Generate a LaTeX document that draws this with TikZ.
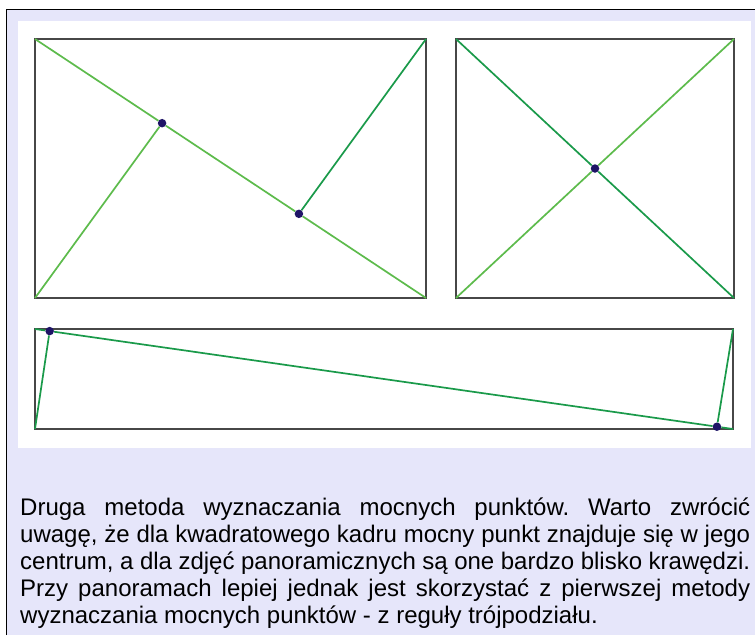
\documentclass[tikz,border=0pt]{standalone}
\usepackage{fontspec}
\setmainfont{Liberation Sans}
\usetikzlibrary{calc}
\definecolor{tlolawenda}{HTML}{E6E6FA}
\definecolor{ramkaszara}{HTML}{474747}
\definecolor{zielenjasna}{HTML}{5DBB4C}
\definecolor{zielenciemna}{HTML}{1A9A4A}
\definecolor{punktgranat}{HTML}{1E1466}
\hbadness=10000
\frenchspacing

\begin{document}
\begin{tikzpicture}[x=1pt, y=-1pt,
    kadr/.style={draw=ramkaszara, line width=2pt, fill=white, inner sep=0pt, outer sep=0pt},
    jasna/.style={draw=zielenjasna, line width=1.7pt},
    ciemna/.style={draw=zielenciemna, line width=1.7pt},
    punkt/.style={circle, fill=punktgranat, inner sep=0pt, minimum size=8.5pt},
    opis/.style={inner sep=0pt, anchor=base west, text=black}]
  \useasboundingbox (0,0) rectangle (755,635);
  \fill[tlolawenda] (6.5,9.5) rectangle (755,635);
  \draw[black, line width=1pt] (6.5,635) -- (6.5,9.5) -- (755,9.5);
  \fill[white] (18,21) rectangle (751,448);
  % kadry
  \node[kadr, minimum width=391pt, minimum height=259pt] (kadrA) at (230.5,168.5) {};
  \node[kadr, minimum width=278pt, minimum height=259pt] (kadrB) at (595,168.5) {};
  \node[kadr, minimum width=698pt, minimum height=100pt] (kadrC) at (384,379) {};
  % mocne punkty
  \node[punkt] (pA1) at ($(kadrA.north west)!0.325!(kadrA.south east)$) {};
  \node[punkt] (pA2) at ($(kadrA.north west)!0.675!(kadrA.south east)$) {};
  \node[punkt] (pB) at (kadrB.center) {};
  \node[punkt] (pC1) at ($(kadrC.north west)!0.021!(kadrC.south east)$) {};
  \node[punkt] (pC2) at ($(kadrC.north west)!0.977!(kadrC.south east)$) {};
  % linie
  \draw[jasna] (kadrA.north west) -- (pA1) -- (pA2) -- (kadrA.south east);
  \draw[jasna] (kadrA.south west) -- (pA1);
  \draw[ciemna] (kadrA.north east) -- (pA2);
  \draw[ciemna] (kadrB.north west) -- (pB) -- (kadrB.south east);
  \draw[jasna] (kadrB.north east) -- (pB) -- (kadrB.south west);
  \draw[ciemna] (kadrC.north west) -- (pC1) -- (pC2) -- (kadrC.south east);
  \draw[ciemna] (kadrC.south west) -- (pC1);
  \draw[ciemna] (kadrC.north east) -- (pC2);
  \node[opis] (tekst) at (20,515) {\begin{minipage}[t]{730pt}\fontsize{24}{27.2}\selectfont
    Druga metoda wyznaczania mocnych punktów. Warto zwrócić\linebreak
    uwagę, że dla kwadratowego kadru mocny punkt znajduje się w jego\linebreak
    centrum, a dla zdjęć panoramicznych są one bardzo blisko krawędzi.\linebreak
    Przy panoramach lepiej jednak jest skorzystać z pierwszej metody\linebreak
    wyznaczania mocnych punktów - z reguły trójpodziału.\end{minipage}};
\end{tikzpicture}
\end{document}
